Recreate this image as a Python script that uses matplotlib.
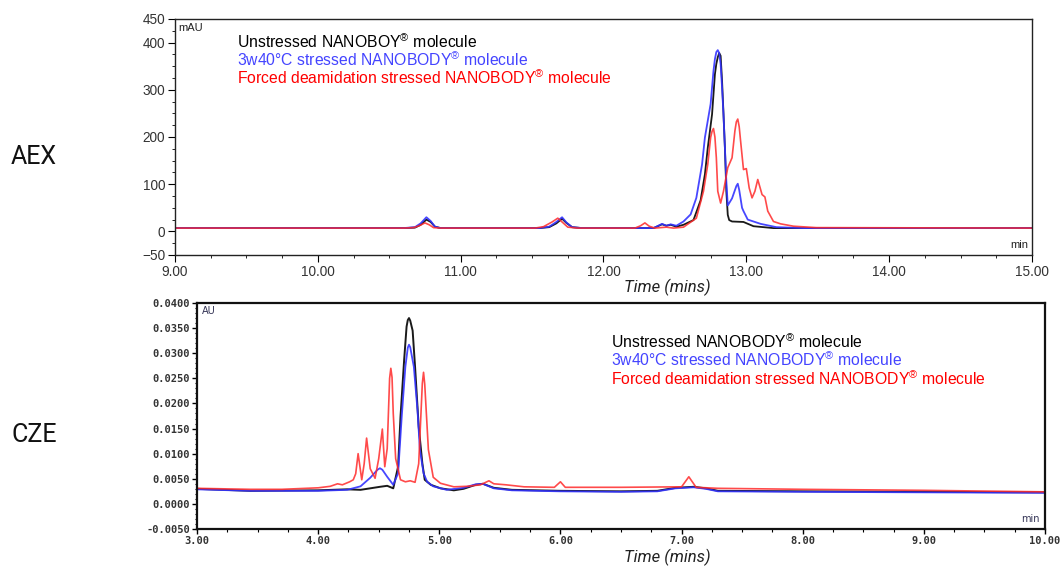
import matplotlib
matplotlib.use("Agg")
import matplotlib.pyplot as plt
from matplotlib.ticker import MultipleLocator, FormatStrFormatter

plt.rcParams["mathtext.fontset"] = "custom"
plt.rcParams["mathtext.rm"] = "Liberation Sans"
plt.rcParams["mathtext.it"] = "Liberation Sans:italic"

# ---- AEX chromatogram (time in min, signal in mAU) ----
aex_black_t = [9.00, 10.60, 10.68, 10.72, 10.76, 10.79, 10.82, 10.86, 11.55, 11.62, 11.67, 11.71,
               11.74, 11.78, 11.85, 12.35, 12.41, 12.44, 12.47, 12.51, 12.56, 12.63, 12.68, 12.71,
               12.73, 12.76, 12.78, 12.79, 12.80, 12.81, 12.82, 12.83, 12.84, 12.85, 12.86, 12.87,
               12.88, 12.90, 12.98, 13.05, 13.19, 15.00]
aex_black_v = [7, 7, 8, 14, 25, 20, 10, 7, 7, 9, 17, 27,
               18, 9, 7, 7, 15, 12, 14, 10, 14, 24, 66, 121,
               177, 248, 333, 355, 369, 378, 372, 319, 250, 177, 85, 35,
               24, 21, 20, 11, 7, 7]

aex_blue_t = [9.00, 10.60, 10.68, 10.72, 10.76, 10.79, 10.82, 10.86, 11.55, 11.62, 11.67, 11.71,
              11.74, 11.78, 11.85, 12.35, 12.41, 12.44, 12.47, 12.51, 12.56, 12.61, 12.65, 12.69,
              12.71, 12.75, 12.77, 12.78, 12.79, 12.80, 12.81, 12.82, 12.83, 12.84, 12.86, 12.87,
              12.90, 12.93, 12.94, 12.95, 12.97, 12.98, 13.01, 13.10, 13.21, 13.40, 15.00]
aex_blue_v = [7, 7, 9, 17, 30, 22, 10, 7, 7, 10, 20, 30,
              19, 9, 7, 7, 16, 12, 15, 12, 21, 36, 71, 142,
              199, 270, 340, 365, 380, 384, 378, 355, 305, 248, 106, 55,
              70, 96, 101, 88, 50, 43, 25, 16, 9, 7, 7]

aex_red_t = [9.00, 10.60, 10.67, 10.71, 10.75, 10.78, 10.81, 10.86, 11.52, 11.58, 11.64, 11.68,
             11.71, 11.75, 11.82, 12.22, 12.26, 12.29, 12.32, 12.36, 12.44, 12.49, 12.56, 12.65,
             12.70, 12.73, 12.75, 12.76, 12.77, 12.78, 12.79, 12.80, 12.82, 12.84, 12.87, 12.90,
             12.92, 12.93, 12.94, 12.95, 12.96, 12.98, 13.00, 13.02, 13.04, 13.06, 13.08, 13.11,
             13.13, 13.15, 13.19, 13.24, 13.33, 13.49, 15.00]
aex_red_v = [7, 7, 8, 12, 18, 14, 8, 7, 7, 10, 20, 28,
             20, 9, 7, 7, 12, 18, 11, 7, 9, 7, 9, 28,
             85, 142, 199, 212, 218, 200, 156, 85, 60, 85, 135, 156,
             213, 232, 238, 222, 191, 131, 133, 92, 71, 85, 110, 78,
             73, 43, 21, 16, 11, 8, 7]

# ---- CZE electropherogram (time in min, signal in AU) ----
cze_black_t = [3.00, 3.44, 4.00, 4.24, 4.35, 4.51, 4.57, 4.62, 4.66, 4.68, 4.71, 4.73,
               4.74, 4.75, 4.76, 4.78, 4.80, 4.83, 4.86, 4.88, 4.93, 5.01, 5.12, 5.20,
               5.30, 5.36, 5.45, 5.60, 6.00, 6.50, 6.80, 6.95, 7.10, 7.20, 7.30, 8.00,
               9.00, 10.00]
cze_black_v = [0.0030, 0.0026, 0.0027, 0.0029, 0.0028, 0.0034, 0.0036, 0.0031, 0.0074, 0.0174, 0.0287, 0.0353,
               0.0366, 0.0370, 0.0365, 0.0345, 0.0273, 0.0154, 0.0081, 0.0048, 0.0038, 0.0031, 0.0027, 0.0030,
               0.0038, 0.0040, 0.0032, 0.0028, 0.0026, 0.0025, 0.0026, 0.0032, 0.0034, 0.0031, 0.0026, 0.0025,
               0.0024, 0.0023]

cze_blue_t = [3.00, 3.44, 4.00, 4.24, 4.35, 4.43, 4.49, 4.51, 4.53, 4.57, 4.62, 4.66,
              4.69, 4.72, 4.74, 4.75, 4.76, 4.79, 4.82, 4.84, 4.87, 4.90, 4.95, 5.06,
              5.20, 5.30, 5.36, 5.45, 5.60, 6.00, 6.50, 6.80, 6.95, 7.10, 7.20, 7.30,
              8.00, 9.00, 10.00]
cze_blue_v = [0.0029, 0.0026, 0.0026, 0.0028, 0.0035, 0.0052, 0.0068, 0.0071, 0.0068, 0.0054, 0.0038, 0.0061,
              0.0174, 0.0273, 0.0311, 0.0317, 0.0312, 0.0273, 0.0187, 0.0108, 0.0061, 0.0044, 0.0035, 0.0028,
              0.0032, 0.0039, 0.0040, 0.0031, 0.0027, 0.0025, 0.0024, 0.0025, 0.0031, 0.0033, 0.0030, 0.0025,
              0.0024, 0.0023, 0.0022]

cze_red_t = [3.00, 3.44, 3.70, 4.00, 4.10, 4.16, 4.20, 4.24, 4.26, 4.29, 4.31, 4.33,
             4.36, 4.38, 4.40, 4.43, 4.47, 4.50, 4.53, 4.55, 4.57, 4.59, 4.60, 4.61,
             4.62, 4.64, 4.68, 4.72, 4.76, 4.80, 4.83, 4.86, 4.87, 4.88, 4.91, 4.95,
             5.01, 5.12, 5.23, 5.34, 5.41, 5.45, 5.55, 5.70, 5.95, 6.00, 6.04, 6.50,
             7.00, 7.06, 7.12, 7.30, 8.00, 9.00, 10.00]
cze_red_v = [0.0031, 0.0029, 0.0029, 0.0032, 0.0035, 0.0040, 0.0038, 0.0042, 0.0044, 0.0048, 0.0060, 0.0100,
             0.0048, 0.0080, 0.0131, 0.0070, 0.0051, 0.0090, 0.0149, 0.0074, 0.0110, 0.0250, 0.0270, 0.0252,
             0.0180, 0.0090, 0.0048, 0.0044, 0.0046, 0.0043, 0.0080, 0.0240, 0.0262, 0.0238, 0.0108, 0.0053,
             0.0041, 0.0034, 0.0035, 0.0038, 0.0046, 0.0040, 0.0038, 0.0034, 0.0033, 0.0044, 0.0033, 0.0033,
             0.0034, 0.0054, 0.0033, 0.0031, 0.0029, 0.0027, 0.0024]

aex_labels = [r"Unstressed NANOBOY$^{®}$ molecule",
              r"3w40°C stressed NANOBODY$^{®}$ molecule",
              r"Forced deamidation stressed NANOBODY$^{®}$ molecule"]
cze_labels = [r"Unstressed NANOBODY$^{®}$ molecule",
              r"3w40°C stressed NANOBODY$^{®}$ molecule",
              r"Forced deamidation stressed NANOBODY$^{®}$ molecule"]

line_colors = ["#1a1a1a", "#3333ff", "#ff2a2a"]
text_colors = ["#000000", "#4444ff", "#ff0000"]

W, H = 1062, 567
fig = plt.figure(figsize=(W / 100, H / 100), dpi=100)


def frac_box(x0, y0, x1, y1):
    # pixel box (top-left origin) -> figure fraction rect
    return [x0 / W, 1 - y1 / H, (x1 - x0) / W, (y1 - y0) / H]


# ---------------- AEX panel ----------------
ax1 = fig.add_axes(frac_box(175, 19, 1032, 255))
ax1.plot(aex_black_t, aex_black_v, color=line_colors[0], lw=1.3, solid_joinstyle="round")
ax1.plot(aex_blue_t, aex_blue_v, color=line_colors[1], lw=1.3, alpha=0.9, solid_joinstyle="round")
ax1.plot(aex_red_t, aex_red_v, color=line_colors[2], lw=1.2, alpha=0.85, solid_joinstyle="round")
ax1.set_xlim(9, 15)
ax1.set_ylim(-50, 450)
ax1.set_yticks([-50, 0, 100, 200, 300, 400, 450])
ax1.xaxis.set_major_locator(MultipleLocator(1))
ax1.xaxis.set_minor_locator(MultipleLocator(0.25))
ax1.yaxis.set_minor_locator(MultipleLocator(25))
ax1.xaxis.set_major_formatter(FormatStrFormatter("%.2f"))
ax1.tick_params(axis="both", which="major", length=5, width=0.8, labelsize=9.8,
                labelcolor="#333333", pad=2, labelfontfamily="Liberation Sans")
ax1.tick_params(axis="both", which="minor", length=2.5, width=0.6)
for s in ax1.spines.values():
    s.set_linewidth(1.0)
    s.set_color("#222222")
ax1.text(0.004, 0.985, "mAU", transform=ax1.transAxes, ha="left", va="top",
         fontsize=8, family="Liberation Sans", color="#222222")
ax1.text(0.996, 0.02, "min", transform=ax1.transAxes, ha="right", va="bottom",
         fontsize=8, family="Liberation Sans", color="#222222")

# ---------------- CZE panel ----------------
ax2 = fig.add_axes(frac_box(197, 303, 1045, 529))
ax2.plot(cze_black_t, cze_black_v, color=line_colors[0], lw=1.4, solid_joinstyle="round")
ax2.plot(cze_blue_t, cze_blue_v, color=line_colors[1], lw=1.3, alpha=0.9, solid_joinstyle="round")
ax2.plot(cze_red_t, cze_red_v, color=line_colors[2], lw=1.2, alpha=0.85, solid_joinstyle="round")
ax2.set_xlim(3, 10)
ax2.set_ylim(-0.005, 0.04)
ax2.xaxis.set_major_locator(MultipleLocator(1))
ax2.xaxis.set_minor_locator(MultipleLocator(0.25))
ax2.yaxis.set_major_locator(MultipleLocator(0.005))
ax2.yaxis.set_minor_locator(MultipleLocator(0.001))
ax2.xaxis.set_major_formatter(FormatStrFormatter("%.2f"))
ax2.yaxis.set_major_formatter(FormatStrFormatter("%.4f"))
ax2.tick_params(axis="both", which="major", length=3.5, width=1.0, labelsize=7.5,
                labelcolor="#333333", pad=1.5, labelfontfamily="DejaVu Sans Mono")
ax2.tick_params(axis="both", which="minor", length=1.8, width=0.8)
for lab in ax2.get_xticklabels() + ax2.get_yticklabels():
    lab.set_fontweight("bold")
for s in ax2.spines.values():
    s.set_linewidth(1.6)
    s.set_color("#111111")
ax2.text(0.006, 0.985, "AU", transform=ax2.transAxes, ha="left", va="top",
         fontsize=7, family="DejaVu Sans", color="#333355")
ax2.text(0.994, 0.02, "min", transform=ax2.transAxes, ha="right", va="bottom",
         fontsize=7, family="DejaVu Sans", color="#333355")

# ---------------- legends as coloured text ----------------
for i, lab in enumerate(aex_labels):
    fig.text(237 / W, 1 - (48 + 18 * i) / H, lab, color=text_colors[i], fontsize=11.3,
             family="Liberation Sans", ha="left", va="baseline")
for i, lab in enumerate(cze_labels):
    fig.text(611 / W, 1 - (348 + 18.5 * i) / H, lab, color=text_colors[i], fontsize=11.3,
             family="Liberation Sans", ha="left", va="baseline")

# ---------------- axis titles and panel names ----------------
fig.text(667 / W, 1 - 287 / H, "Time (mins)", ha="center", va="center",
         fontsize=12, family="Roboto", style="italic", color="#222222")
fig.text(667 / W, 1 - 557 / H, "Time (mins)", ha="center", va="center",
         fontsize=12, family="Roboto", style="italic", color="#222222")
fig.text(34 / W, 1 - 157 / H, "AEX", ha="center", va="center", fontsize=18,
         family="Roboto", color="#111111")
fig.text(34 / W, 1 - 435 / H, "CZE", ha="center", va="center", fontsize=18,
         family="Roboto", color="#111111")

fig.savefig("out.png", dpi=100)
